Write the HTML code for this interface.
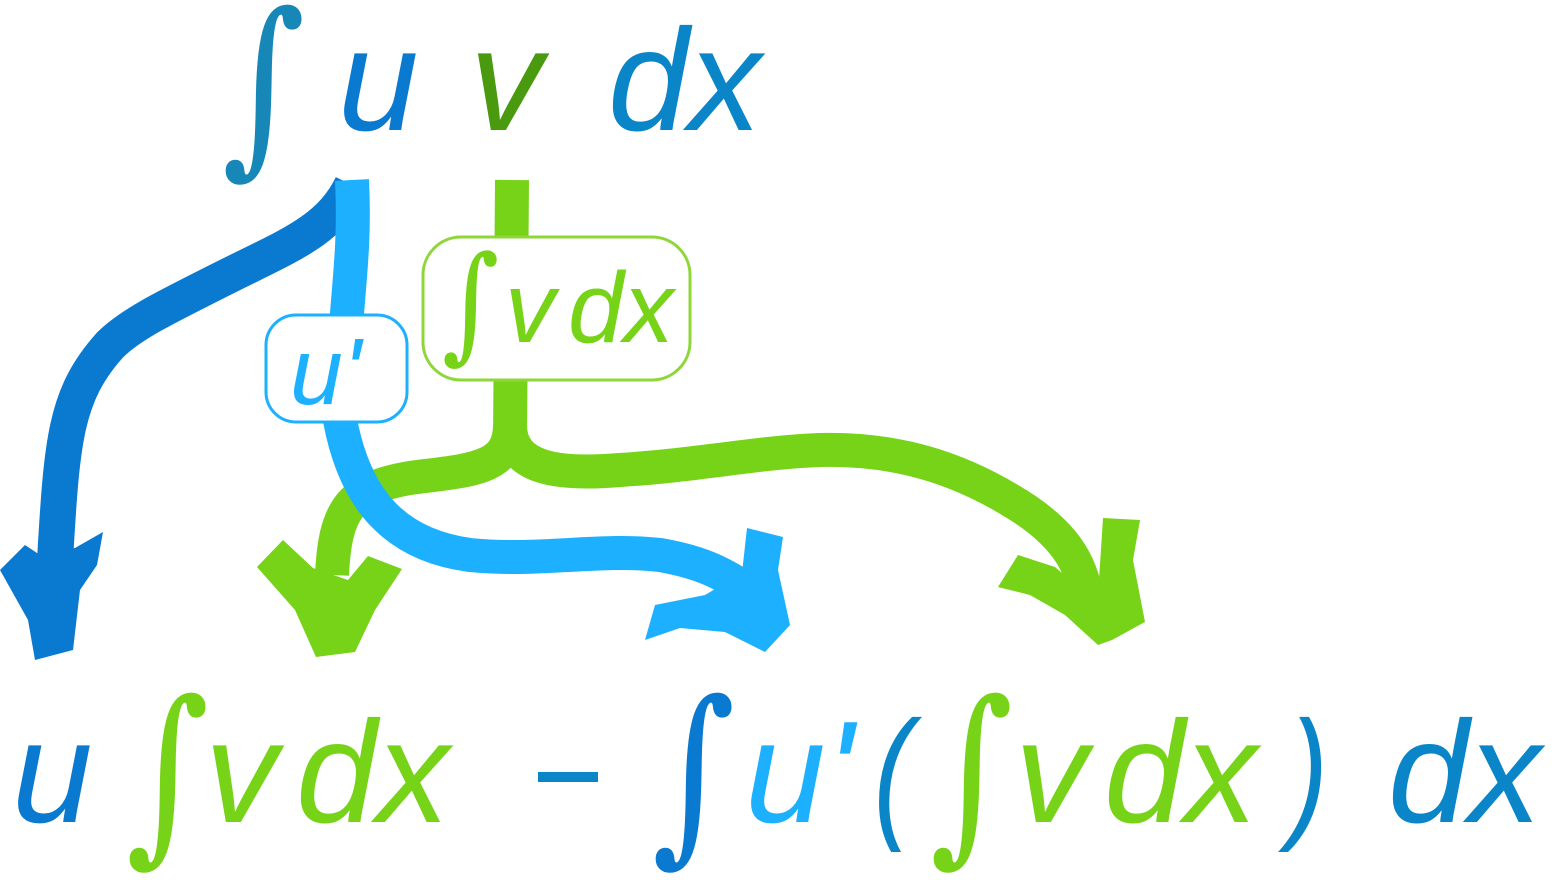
<!DOCTYPE html>
<html><head><meta charset="utf-8"><style>
html,body{margin:0;padding:0;background:#fff;width:1552px;height:880px;overflow:hidden}
svg text{font-family:"Liberation Sans",sans-serif;font-style:italic}
.int{font-family:"DejaVu Serif","Liberation Serif",serif;font-style:normal}
</style></head><body>
<svg width="1552" height="880" viewBox="0 0 1552 880">
<g>
<path d="M352,185 C330,230 290,245 230,275 C160,310 130,325 110,345 C65,395 62,440 55,560" fill="none" stroke="#0a79d0" stroke-width="36"/>
<polygon points="0,570 25,545 40,555 75,548 103,532 97,565 80,590 73,650 35,660 28,620" fill="#0a79d0"/>
</g>
<g>
<path d="M512,180 L510,440" fill="none" stroke="#77d318" stroke-width="34"/>
<path d="M510,425 C510,470 470,470 410,478 C350,488 335,510 332,575" fill="none" stroke="#77d318" stroke-width="34"/>
<polygon points="257,567 283,540 313,568 348,580 368,556 402,569 375,610 355,652 316,657 295,610" fill="#77d318"/>
<path d="M510,425 C510,470 560,475 620,470 C700,465 760,452 820,450 C900,448 960,470 1010,500 C1070,535 1085,570 1088,610" fill="none" stroke="#77d318" stroke-width="34"/>
<polygon points="998,587 1018,555 1055,567 1070,580 1098,595 1103,518 1140,520 1133,560 1145,622 1112,640 1098,645 1065,615 1030,595" fill="#77d318"/>
</g>
<g>
<path d="M352,180 C356,260 345,300 340,420 C355,500 395,545 470,555 C540,562 600,548 660,555 C700,562 720,572 745,588" fill="none" stroke="#1cb0ff" stroke-width="34"/>
<polygon points="645,640 655,605 705,595 742,573 747,528 783,537 778,570 790,625 765,652 725,632 680,628" fill="#1cb0ff"/>
</g>
<g>
<rect x="423" y="237" width="267" height="143" rx="38" fill="#fff" stroke="#8fd63a" stroke-width="3"/>
<text class="int" x="442" y="346" font-size="110" fill="#77d318" transform="translate(442,346) scale(1,1.15) translate(-442,-346)">∫</text>
<text x="505" y="342" font-size="100" fill="#77d318">v</text>
<text x="568" y="342" font-size="100" fill="#77d318">dx</text>
</g>
<g>
<rect x="266" y="315" width="141" height="107" rx="30" fill="#fff" stroke="#1cb0ff" stroke-width="3"/>
<text x="290" y="404" font-size="95" fill="#1cb0ff">u'</text>
</g>
<g>
<text class="int" x="222" y="150" font-size="160" fill="#1787b8" transform="translate(222,150) scale(1,1.2) translate(-222,-150)">∫</text>
<text x="338" y="130" font-size="145" fill="#0a79d0">u</text>
<text x="470" y="130" font-size="145" fill="#4a9a10">v</text>
<text x="608" y="130" font-size="145" fill="#0a86c8">dx</text>
</g>
<g>
<text x="12" y="822" font-size="145" fill="#0a79d0">u</text>
<text class="int" x="126" y="838" font-size="160" fill="#77d318" transform="translate(126,838) scale(1,1.2) translate(-126,-838)">∫</text>
<text x="205" y="822" font-size="145" fill="#77d318">v</text>
<text x="296" y="822" font-size="145" fill="#77d318">dx</text>
<rect x="538" y="772" width="60" height="10" fill="#0a86c8"/>
<text class="int" x="652" y="838" font-size="160" fill="#0a79d0" transform="translate(652,838) scale(1,1.2) translate(-652,-838)">∫</text>
<text x="745" y="822" font-size="145" fill="#1cb0ff">u'</text>
<text x="872" y="822" font-size="145" fill="#0a86c8" transform="translate(880,822) scale(0.8,1) translate(-880,-822)">(</text>
<text class="int" x="930" y="838" font-size="160" fill="#77d318" transform="translate(930,838) scale(1,1.2) translate(-930,-838)">∫</text>
<text x="1015" y="822" font-size="145" fill="#77d318">v</text>
<text x="1104" y="822" font-size="145" fill="#77d318">dx</text>
<text x="1288" y="822" font-size="145" fill="#0a86c8" transform="translate(1295,822) scale(0.8,1) translate(-1295,-822)">)</text>
<text x="1388" y="822" font-size="145" fill="#0a86c8">dx</text>
</g>
</svg>
</body></html>
